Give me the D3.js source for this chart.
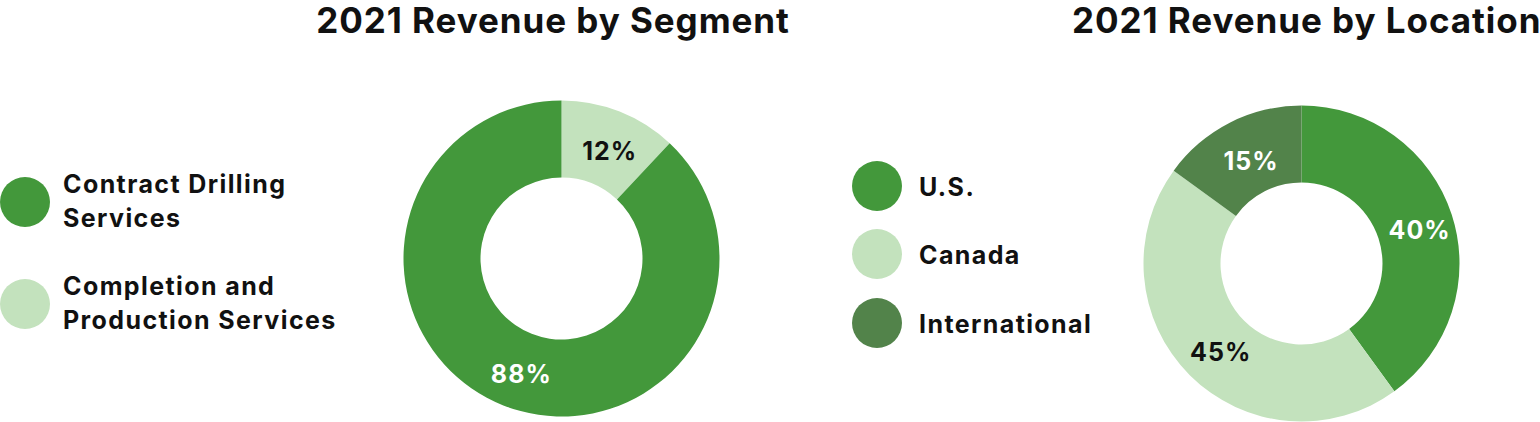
<!DOCTYPE html>
<html><head><meta charset="utf-8">
<script src="https://cdn.jsdelivr.net/npm/d3@7"></script>
<style>body{margin:0;background:#fff;} svg{display:block;font-family:Inter,"Noto Sans",sans-serif;font-weight:700;}</style>
</head><body>
<svg id="c" width="1540" height="422"></svg>
<script>
const segmentCategories = ["Completion and Production Services", "Contract Drilling Services"];
const segmentValues = [12, 88];
const segmentLegend = [["Contract Drilling", "Services"], ["Completion and", "Production Services"]];
const segmentLegendKeys = ["Contract Drilling Services", "Completion and Production Services"];
const locationCategories = ["U.S.", "Canada", "International"];
const locationValues = [40, 45, 15];
const titles = ["2021 Revenue by Segment", "2021 Revenue by Location"];

const colorMap = {
  "Contract Drilling Services": "#43983b",
  "Completion and Production Services": "#c3e2bd",
  "U.S.": "#43983b",
  "Canada": "#c3e2bd",
  "International": "#52834a"
};
const labelColor = {
  "Contract Drilling Services": "#fff",
  "Completion and Production Services": "#111",
  "U.S.": "#fff",
  "Canada": "#111",
  "International": "#fff"
};

const svg = d3.select("#c");

function donut(cx, cy, cats, vals) {
  const data = cats.map((c, i) => ({cat: c, v: vals[i]}));
  const pie = d3.pie().value(d => d.v).sort(null);
  const arc = d3.arc().innerRadius(81).outerRadius(158);
  const labelArc = d3.arc().innerRadius(120).outerRadius(120);
  const g = svg.append("g").attr("transform", `translate(${cx},${cy})`);
  const arcs = pie(data);
  g.selectAll("path").data(arcs).join("path")
    .attr("d", arc).attr("fill", d => colorMap[d.data.cat]);
  g.selectAll("text").data(arcs).join("text")
    .attr("transform", d => { const c = labelArc.centroid(d); return `translate(${c[0] + 4},${c[1] + 4})`; })
    .attr("text-anchor", "middle").attr("dy", "0.36em")
    .attr("font-size", 25).attr("letter-spacing", 1).attr("fill", d => labelColor[d.data.cat])
    .text(d => d.data.v + "%");
}

donut(561.5, 258.5, segmentCategories, segmentValues);
donut(1301.5, 263.5, locationCategories, locationValues);

svg.append("text").attr("x", 553).attr("y", 33).attr("text-anchor", "middle")
  .attr("font-size", 35).attr("letter-spacing", 0.95).attr("fill", "#111").text(titles[0]);
svg.append("text").attr("x", 1072).attr("y", 33).attr("text-anchor", "start")
  .attr("font-size", 35).attr("letter-spacing", 0.95).attr("fill", "#111").text(titles[1]);

// left legend
const leftY = [202, 304];
segmentLegendKeys.forEach((k, i) => {
  svg.append("circle").attr("cx", 25).attr("cy", leftY[i]).attr("r", 25).attr("fill", colorMap[k]);
  const t = svg.append("text").attr("x", 63).attr("y", leftY[i] - 9).attr("font-size", 25)
    .attr("letter-spacing", 1.4).attr("fill", "#111");
  segmentLegend[i].forEach((line, j) => {
    t.append("tspan").attr("x", 63).attr("dy", j === 0 ? 0 : 34).text(line);
  });
});

// right legend
const rightY = [186, 254, 323];
locationCategories.forEach((k, i) => {
  svg.append("circle").attr("cx", 877).attr("cy", rightY[i]).attr("r", 25).attr("fill", colorMap[k]);
  svg.append("text").attr("x", 919).attr("y", rightY[i] + 10).attr("font-size", 25)
    .attr("letter-spacing", 1.4).attr("fill", "#111").text(k);
});
</script>
</body></html>
